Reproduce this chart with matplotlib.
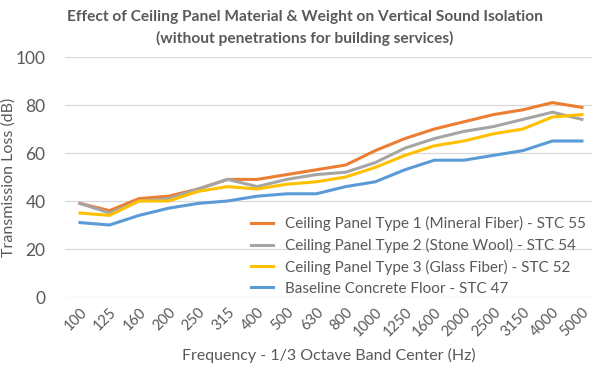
import matplotlib
matplotlib.use("Agg")
import matplotlib.pyplot as plt

freqs = ["100", "125", "160", "200", "250", "315", "400", "500", "630", "800",
         "1000", "1250", "1600", "2000", "2500", "3150", "4000", "5000"]
type1 = [39, 36, 41, 42, 45, 49, 49, 51, 53, 55, 61, 66, 70, 73, 76, 78, 81, 79]
type2 = [39, 35, 40, 41, 45, 49, 46, 49, 51, 52, 56, 62, 66, 69, 71, 74, 77, 74]
type3 = [35, 34, 40, 40, 44, 46, 45, 47, 48, 50, 54, 59, 63, 65, 68, 70, 75, 76]
baseline = [31, 30, 34, 37, 39, 40, 42, 43, 43, 46, 48, 53, 57, 57, 59, 61, 65, 65]

labels = ["Ceiling Panel Type 1 (Mineral Fiber) - STC 55",
          "Ceiling Panel Type 2 (Stone Wool) - STC 54",
          "Ceiling Panel Type 3 (Glass Fiber) - STC 52",
          "Baseline Concrete Floor - STC 47"]
colors = ["#ED7D31", "#A5A5A5", "#FFC000", "#5B9BD5"]

plt.rcParams['font.family'] = ['Lato', 'DejaVu Sans']
txt = "#595959"

W, H = 593, 368
fig = plt.figure(figsize=(W / 100, H / 100), dpi=100)
ax = fig.add_axes([65 / W, 1 - 297 / H, (592 - 65) / W, (297 - 57) / H])

x = list(range(len(freqs)))
for series, lab, c in zip([type1, type2, type3, baseline], labels, colors):
    ax.plot(x, series, color=c, lw=2.2, label=lab, solid_joinstyle='round')

ax.set_ylim(0, 100)
ax.set_yticks([0, 20, 40, 60, 80, 100])
ax.set_xlim(-0.508, 17.34)
ax.set_xticks(x)
ax.set_xticklabels(freqs, rotation=45, ha='right', rotation_mode='anchor')
ax.grid(axis='y', color='#D9D9D9', lw=0.9)
ax.set_axisbelow(True)
for s in ax.spines.values():
    s.set_visible(False)
ax.tick_params(axis='both', length=0, colors=txt, labelsize=10.5)
ax.tick_params(axis='y', labelsize=12.5, pad=14)
ax.tick_params(axis='x', pad=6)

ax.set_ylabel("Transmission Loss (dB)", color=txt, fontsize=11.5)
ax.yaxis.set_label_coords((16 - 65) / 527, 0.5)
ax.set_xlabel("Frequency - 1/3 Octave Band Center (Hz)", color=txt, fontsize=11.5, labelpad=6)

fig.text(305 / W, 1 - 17 / H, "Effect of Ceiling Panel Material & Weight on Vertical Sound Isolation",
         ha='center', va='center', fontsize=11.2, fontweight='bold', color=txt)
fig.text(305 / W, 1 - 38 / H, "(without penetrations for building services)",
         ha='center', va='center', fontsize=11.2, fontweight='bold', color=txt)

leg = ax.legend(loc='lower right', bbox_to_anchor=(1.0, -0.02), frameon=False,
                fontsize=11, handlelength=1.4, handletextpad=0.8, labelspacing=0.45,
                borderaxespad=0.0)
for t in leg.get_texts():
    t.set_color(txt)

fig.savefig("out.png", dpi=100)
